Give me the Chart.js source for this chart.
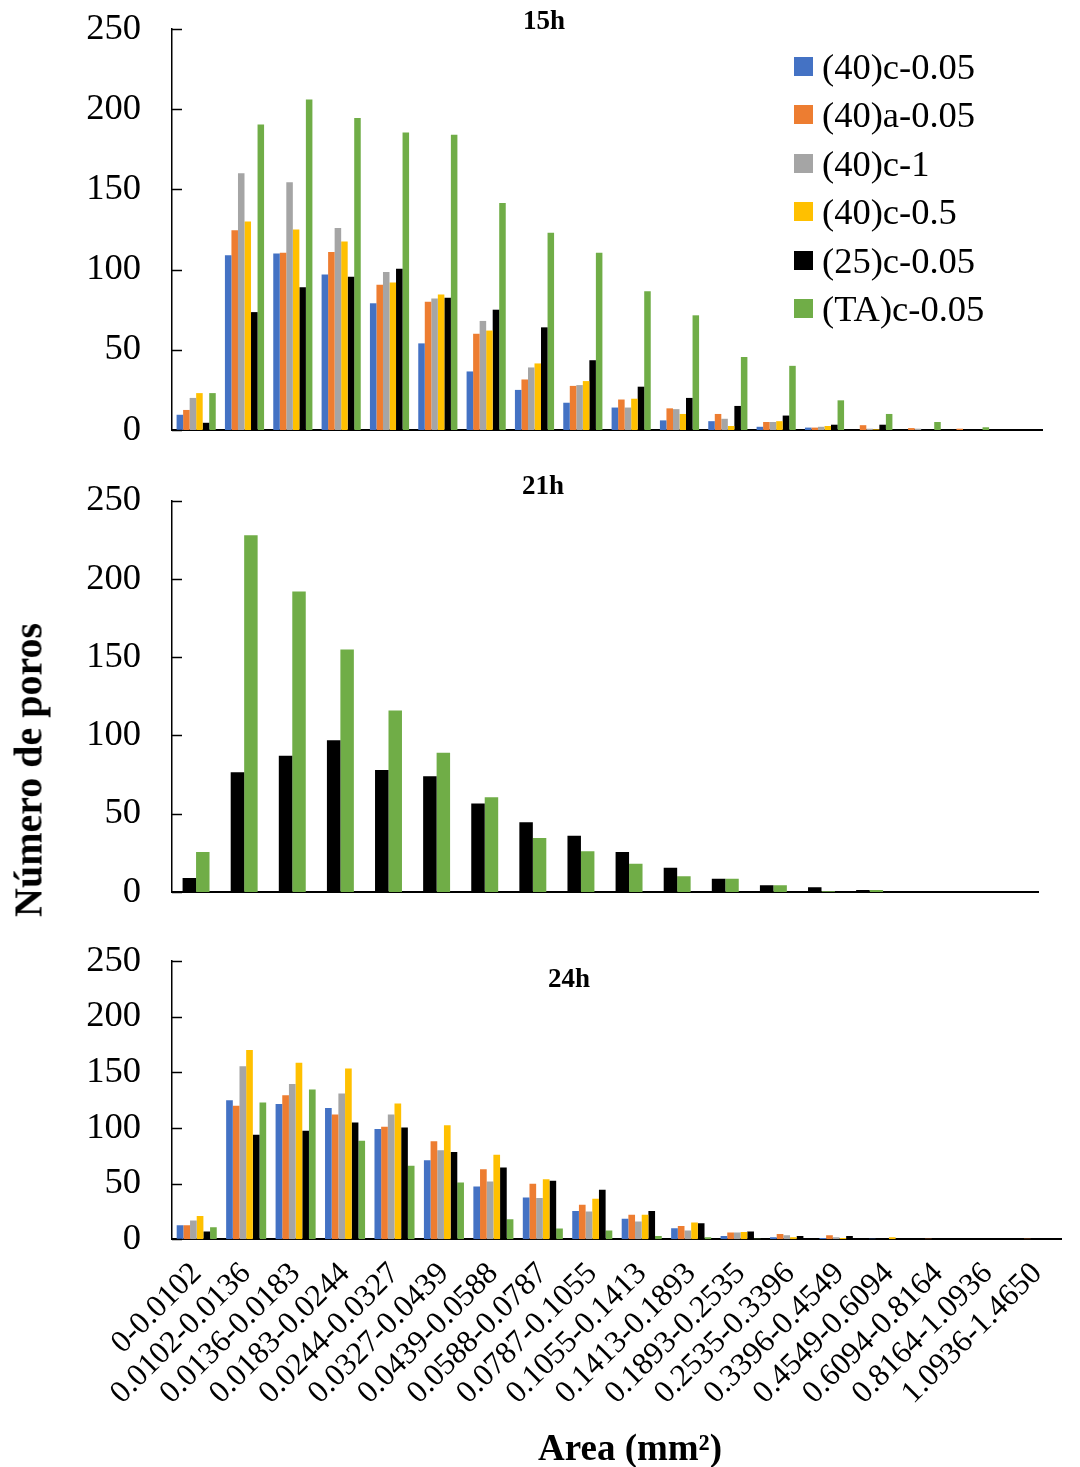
<!DOCTYPE html>
<html>
<head>
<meta charset="utf-8">
<script src="https://cdn.jsdelivr.net/npm/chart.js@4.4.1/dist/chart.umd.min.js"></script>
<style>
  body { margin: 0; background: #fff; }
  #wrap { position: relative; width: 1080px; height: 1467px; font-family: "Liberation Serif", "Times New Roman", serif; color: #000; }
  canvas { position: absolute; left: 0; }
  .ptitle { position: absolute; font-weight: bold; font-size: 27px; transform: translate(-50%, -50%); white-space: nowrap; }
  #ytitle { position: absolute; left: 28px; top: 770px; font-weight: bold; font-size: 40px; white-space: nowrap; transform: translate(-50%, -50%) rotate(-90deg); }
  #xtitle { position: absolute; left: 630px; top: 1447px; font-weight: bold; font-size: 37px; white-space: nowrap; transform: translate(-50%, -50%); }
  #legend { position: absolute; left: 794px; top: 42px; font-size: 36.5px; }
  #legend div { height: 48.5px; display: flex; align-items: center; white-space: nowrap; }
  #legend span.box { display: inline-block; width: 19px; height: 19px; margin-right: 9px; }
</style>
</head>
<body>
<div id="wrap">
  <canvas id="c15" width="1080" height="460" style="top:0"></canvas>
  <canvas id="c21" width="1080" height="470" style="top:450px"></canvas>
  <canvas id="c24" width="1080" height="567" style="top:900px"></canvas>
  <div class="ptitle" style="left:544px;top:20px">15h</div>
  <div class="ptitle" style="left:543px;top:485px">21h</div>
  <div class="ptitle" style="left:569px;top:978px">24h</div>
  <div id="ytitle">Número de poros</div>
  <div id="xtitle">Area (mm²)</div>
  <div id="legend"></div>
</div>
<script>
var categories = ['0-0.0102', '0.0102-0.0136', '0.0136-0.0183', '0.0183-0.0244', '0.0244-0.0327', '0.0327-0.0439',
  '0.0439-0.0588', '0.0588-0.0787', '0.0787-0.1055', '0.1055-0.1413', '0.1413-0.1893', '0.1893-0.2535',
  '0.2535-0.3396', '0.3396-0.4549', '0.4549-0.6094', '0.6094-0.8164', '0.8164-1.0936', '1.0936-1.4650'];

var seriesNames = ['(40)c-0.05', '(40)a-0.05', '(40)c-1', '(40)c-0.5', '(25)c-0.05', '(TA)c-0.05'];
var seriesColors = ['#4472C4', '#ED7D31', '#A5A5A5', '#FFC000', '#000000', '#70AD47'];
var yTicks = [0, 50, 100, 150, 200, 250];

// 15h
var c005_15 = [9.5, 109, 110, 97, 79, 54, 36.5, 25, 17, 14, 6, 5.5, 2, 1.5, 0, 0, 0, 0];
var a005_15 = [12.5, 124.5, 110.5, 111, 90.5, 80, 60, 31.5, 27.5, 19, 13.5, 10, 5, 1.5, 3, 1.2, 0.8, 0];
var c1_15 = [20, 160, 154.5, 126, 98.5, 82, 68, 39, 28, 14, 13, 7, 5, 2, 0.8, 0.8, 0, 0];
var c05_15 = [23, 130, 125, 117.5, 92, 84.5, 62, 41.5, 30.5, 19.5, 10, 2.5, 5.5, 2.5, 0.4, 0, 0, 0];
var c25_15 = [4.5, 73.5, 89, 95.5, 100.5, 82.5, 75, 64, 43.5, 27, 20, 15, 9, 3.3, 3.3, 0.4, 0, 0];
var ta_15 = [23, 190.5, 206, 194.5, 185.5, 184, 141.5, 123, 110.5, 86.5, 71.5, 45.5, 40, 18.5, 10, 5, 1.7, 0];

// 21h (only two series shown)
var c25_21 = [9, 76.5, 87, 97, 78, 74, 56.5, 44.5, 36, 25.5, 15.5, 8.5, 4.3, 3, 1.3, 0, 0.3, 0];
var ta_21 = [25.5, 228, 192, 155, 116, 89, 60.5, 34.5, 26, 18, 10, 8.5, 4.3, 0.5, 1.3, 0, 0, 0];

// 24h
var c005_24 = [12.6, 125, 121.5, 118, 99, 71, 47.5, 37.5, 25.5, 18.5, 10, 3, 1.8, 1.2, 0.6, 0, 0, 0];
var a005_24 = [12.6, 120, 129.5, 112, 101, 88, 63, 50, 31, 22, 12, 6, 4.8, 3.6, 0, 0.6, 0, 0.6];
var c1_24 = [17, 155.5, 139.5, 131, 112, 80, 52, 37, 25, 16, 8, 6, 3.6, 1.8, 0, 0, 0, 0];
var c05_24 = [21, 170, 158.5, 153.5, 122, 102.5, 76, 54, 36.5, 22, 15, 6.5, 1.8, 1.2, 1.8, 0, 0, 0];
var c25_24 = [7, 94, 97.5, 105, 100.5, 78.5, 64.5, 52.5, 44.5, 25.5, 14.5, 7, 3, 3, 1.2, 1.2, 0, 0];
var ta_24 = [10.8, 123, 134.5, 88.5, 66, 51, 18, 9.6, 7.8, 3, 1.8, 0.6, 0, 0, 0, 0, 0, 0];

var serif = '"Liberation Serif", "Times New Roman", serif';

// short tick marks drawn inside the plot, like the original
var innerTicks = {
  id: 'innerTicks',
  afterDraw: function(chart) {
    var y = chart.scales.y, ctx = chart.ctx, left = chart.chartArea.left;
    ctx.save();
    ctx.strokeStyle = '#000';
    ctx.lineWidth = 1.5;
    y.ticks.forEach(function(t) {
      var py = Math.round(y.getPixelForValue(t.value)) + 0.5;
      ctx.beginPath();
      ctx.moveTo(left, py);
      ctx.lineTo(left + 10, py);
      ctx.stroke();
    });
    ctx.restore();
  }
};

function makeDatasets(values, idx, catPct) {
  return values.map(function(v, i) {
    return {
      label: seriesNames[idx[i]],
      data: v,
      backgroundColor: seriesColors[idx[i]],
      borderWidth: 0,
      barPercentage: 1,
      categoryPercentage: catPct
    };
  });
}

function makeChart(id, datasets, padTop, padRight, xHeight, showLabels) {
  var ctx = document.getElementById(id).getContext('2d');
  return new Chart(ctx, {
    type: 'bar',
    data: { labels: categories, datasets: datasets },
    plugins: [innerTicks],
    options: {
      responsive: false,
      animation: false,
      devicePixelRatio: 1,
      layout: { padding: { top: padTop, right: padRight, left: 0, bottom: 0 } },
      plugins: { legend: { display: false }, tooltip: { enabled: false } },
      scales: {
        x: {
          grid: { display: false, drawTicks: false },
          border: { display: true, color: '#000', width: 2 },
          ticks: {
            display: showLabels,
            autoSkip: false,
            minRotation: 45,
            maxRotation: 45,
            padding: 16,
            color: '#000',
            font: { family: serif, size: 31.5 }
          },
          afterFit: function(s) { s.height = xHeight; }
        },
        y: {
          min: 0,
          max: 250,
          afterBuildTicks: function(s) { s.ticks = yTicks.map(function(v) { return { value: v }; }); },
          grid: { display: false, drawTicks: false },
          border: { display: true, color: '#000', width: 1.5 },
          ticks: { padding: 31, color: '#000', font: { family: serif, size: 36.5 } },
          afterFit: function(s) {
            s.width = 172;
            s.paddingTop = 0;
            s.paddingBottom = 0;
          }
        }
      }
    }
  });
}

document.addEventListener('DOMContentLoaded', function() {
  makeChart('c15', makeDatasets([c005_15, a005_15, c1_15, c05_15, c25_15, ta_15], [0, 1, 2, 3, 4, 5], 0.81), 29, 38, 30, false);
  makeChart('c21', makeDatasets([c25_21, ta_21], [4, 5], 0.56), 50.7, 42, 28, false);
  makeChart('c24', makeDatasets([c005_24, a005_24, c1_24, c05_24, c25_24, ta_24], [0, 1, 2, 3, 4, 5], 0.81), 61, 0, 227.7, true);

  var legend = document.getElementById('legend');
  seriesNames.forEach(function(name, i) {
    var row = document.createElement('div');
    var box = document.createElement('span');
    box.className = 'box';
    box.style.background = seriesColors[i];
    row.appendChild(box);
    row.appendChild(document.createTextNode(name));
    legend.appendChild(row);
  });
});
</script>
</body>
</html>
